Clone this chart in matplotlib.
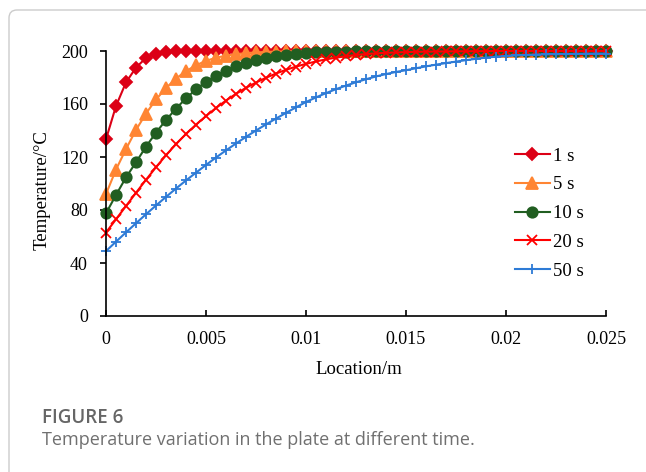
import matplotlib
matplotlib.use("Agg")
import matplotlib.pyplot as plt
from matplotlib.patches import FancyBboxPatch
import numpy as np

# location along the plate (m), one sample every 0.5 mm
location = np.linspace(0, 0.025, 51)

# temperature profiles (deg C) at each time
t_1s = [133.4, 158.5, 176.3, 187.5, 194.8, 198.0, 199.2, 199.7, 199.9] + [200.0] * 42
t_5s = [92.0, 110.5, 126.0, 140.4, 152.8, 163.4, 172.0, 179.2, 184.8, 189.2,
        192.6, 194.9, 196.5, 197.6, 198.4, 198.9, 199.3, 199.5, 199.7, 199.8,
        199.9] + [200.0] * 30
t_10s = [77.5, 91.3, 104.6, 116.0, 127.8, 138.4, 147.9, 156.5, 164.3, 171.0,
         176.8, 181.2, 185.2, 188.4, 191.0, 193.1, 194.9, 196.2, 197.2, 197.9,
         198.5, 198.9, 199.2, 199.4, 199.6, 199.7, 199.8, 199.9] + [200.0] * 23
t_20s = [63.0, 73.0, 83.0, 93.0, 102.8, 112.3, 121.3, 129.7, 137.4, 144.4,
         150.9, 157.0, 162.6, 167.7, 172.2, 176.2, 179.8, 183.0, 185.8, 188.2,
         190.3, 192.1, 193.7, 195.0, 196.1, 197.0, 197.7, 198.2, 198.6, 198.9,
         199.2, 199.4, 199.5, 199.6, 199.7, 199.8, 199.8, 199.9, 199.9] + [200.0] * 12
t_50s = [49.0, 56.1, 63.1, 70.0, 76.8, 83.4, 89.9, 96.2, 102.3, 108.2,
         114.0, 119.6, 125.0, 130.2, 135.2, 140.0, 144.6, 149.0, 153.3, 157.5,
         161.5, 165.0, 168.2, 171.2, 173.9, 176.4, 178.7, 180.8, 182.6, 184.2,
         185.5, 187.0, 188.4, 189.7, 190.9, 192.0, 193.1, 194.1, 195.0, 195.7,
         196.3, 196.7, 197.0, 197.3, 197.5, 197.6, 197.7, 197.8, 197.9, 198.0,
         198.0]

labels = ["1 s", "5 s", "10 s", "20 s", "50 s"]
x_ticks = [0, 0.005, 0.01, 0.015, 0.02, 0.025]
x_ticklabels = ["0", "0.005", "0.01", "0.015", "0.02", "0.025"]
y_ticks = [0, 40, 80, 120, 160, 200]

series = [t_1s, t_5s, t_10s, t_20s, t_50s]
colors = ["#DC0016", "#FF8533", "#215E21", "#FF0000", "#2E7BD6"]
markers = ["D", "^", "o", "x", "+"]
msizes = [6, 8, 7.5, 6.5, 7.5]

serif = "Liberation Serif"

fig = plt.figure(figsize=(6.46, 4.72), dpi=100)
ax = fig.add_axes([106 / 646, 1 - 316 / 472, 500 / 646, 265 / 472])

for y, lab, c, m, ms in zip(series, labels, colors, markers, msizes):
    ax.plot(location, y, color=c, lw=1.5, marker=m, ms=ms, mew=1.3,
            label=lab, clip_on=False)

ax.set_xlim(0, 0.025)
ax.set_ylim(0, 200)
ax.set_xticks(x_ticks)
ax.set_xticklabels(x_ticklabels)
ax.set_yticks(y_ticks)
for s in ["top", "right"]:
    ax.spines[s].set_visible(False)
for s in ["left", "bottom"]:
    ax.spines[s].set_linewidth(1.2)
ax.tick_params(axis="x", direction="in", length=4, width=1.2, pad=11,
               labelsize=13)
ax.tick_params(axis="y", direction="out", length=4, width=1.2, pad=9,
               labelsize=13)
for t in ax.get_xticklabels() + ax.get_yticklabels():
    t.set_fontfamily(serif)

ax.set_xlabel("Location/m", fontsize=13.5, fontfamily=serif)
ax.set_ylabel("Temperature/\u00b0C", fontsize=13.5, fontfamily=serif)
ax.xaxis.set_label_coords(0.506, -0.17)
ax.yaxis.set_label_coords(-0.11, 0.475)

ax.legend(loc="upper left", bbox_to_anchor=(507 / 646, 1 - 140 / 472),
          bbox_transform=fig.transFigure, frameon=False, handlelength=1.9,
          handletextpad=0.15, labelspacing=0.62, borderaxespad=0,
          prop={"family": serif, "size": 13.5})

# panel frame with rounded top-left corner
frame = FancyBboxPatch((0.09, -0.5), 7.0, 4.62 + 0.5,
                       boxstyle="round,pad=0,rounding_size=0.08",
                       transform=fig.dpi_scale_trans, fill=False,
                       edgecolor="#cccccc", lw=1.0)
fig.patches.append(frame)

fig.text(42 / 646, 1 - 423 / 472, "FIGURE 6", fontsize=13.5, fontweight="semibold",
         color="#666666", fontfamily="Open Sans", va="baseline")
fig.text(42 / 646, 1 - 445 / 472,
         "Temperature variation in the plate at different time.",
         fontsize=13, color="#707070", fontfamily="Open Sans", va="baseline")

fig.savefig("out.png", dpi=100)
